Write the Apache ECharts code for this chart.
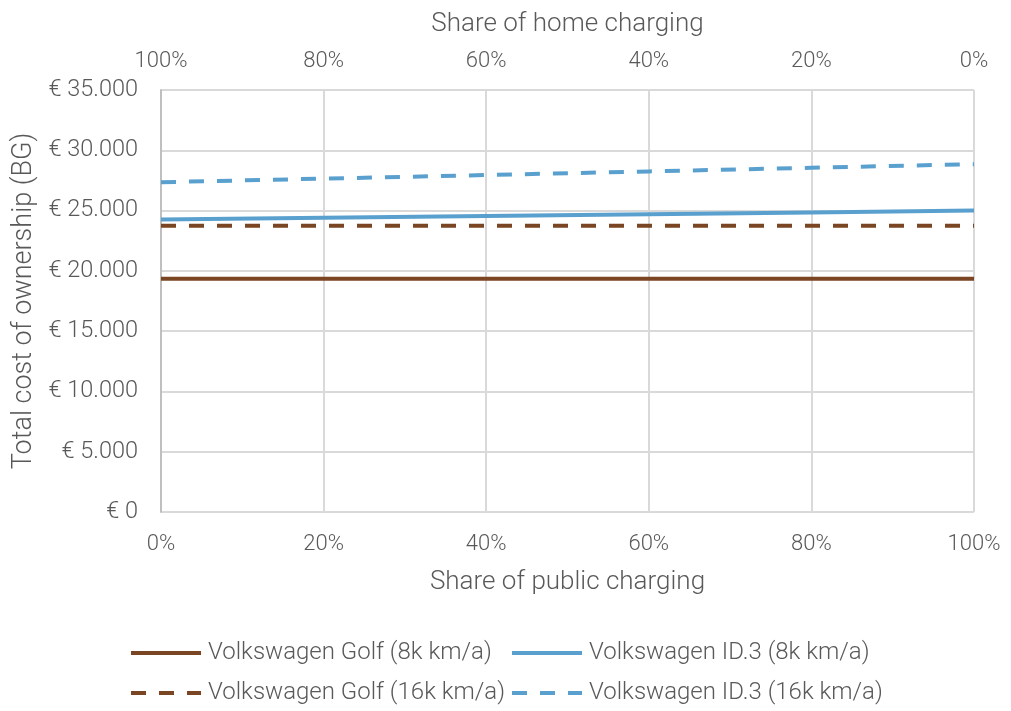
<!DOCTYPE html>
<html>
<head>
<meta charset="utf-8">
<script src="https://cdn.jsdelivr.net/npm/echarts@6/dist/echarts.min.js"></script>
<style>
  html, body { margin: 0; padding: 0; background: #fff; }
  #chart { width: 1011px; height: 711px; }
</style>
</head>
<body>
<div id="chart"></div>
<script>
// share of public charging (%)
const publicShare = [0, 20, 40, 60, 80, 100]
const yTicks = [0, 5000, 10000, 15000, 20000, 25000, 30000, 35000]

const golf8k = [19350, 19350, 19350, 19350, 19350, 19350]
const golf16k = [23750, 23750, 23750, 23750, 23750, 23750]
const id3_8k = [24250, 24400, 24550, 24700, 24850, 25000]
const id3_16k = [27350, 27650, 27950, 28250, 28550, 28850]

const seriesNames = [
  'Volkswagen Golf (8k km/a)',
  'Volkswagen ID.3 (8k km/a)',
  'Volkswagen Golf (16k km/a)',
  'Volkswagen ID.3 (16k km/a)'
]

const brown = '#7a4523'
const blue = '#5aa0cf'
const textColor = '#595959'
const font = 'Roboto'

const pairs = vals => publicShare.map((x, i) => [x, vals[i]])

const fmtEuro = v => '€ ' + String(v).replace(/\B(?=(\d{3})+(?!\d))/g, '.')

const chart = echarts.init(document.getElementById('chart'))

const lineSeries = (name, vals, color, dashed) => ({
  name,
  type: 'line',
  data: pairs(vals),
  symbol: 'none',
  xAxisIndex: 0,
  lineStyle: { color, width: 4, type: dashed ? [15, 13] : 'solid' },
  itemStyle: { color },
  animation: false
})

const legendText = { color: textColor, fontFamily: font, fontWeight: 300, fontSize: 24, lineHeight: 24, padding: [0, 0, 0, 2] }
// one legend per item so the 2x2 layout lines up like the original
const legendAt = (name, left, top) => ({
  left, top, padding: 0, itemWidth: 70, itemHeight: 14,
  itemStyle: { opacity: 0 }, lineStyle: { width: 4 },
  textStyle: legendText, data: [name]
})

chart.setOption({
  animation: false,
  textStyle: { fontFamily: font },
  grid: { left: 161, right: 37, top: 90, bottom: 199, containLabel: false, outerBoundsMode: 'none' },
  legend: [
    legendAt(seriesNames[0], 129, 641),
    legendAt(seriesNames[1], 510, 641),
    legendAt(seriesNames[2], 129, 681),
    legendAt(seriesNames[3], 510, 681)
  ],
  xAxis: [
    {
      type: 'value', position: 'bottom', min: 0, max: 100, interval: 20,
      name: 'Share of public charging', nameLocation: 'middle', nameGap: 57,
      nameTextStyle: { color: textColor, fontSize: 26, fontWeight: 300, fontFamily: font },
      axisLine: { show: false }, axisTick: { show: false },
      axisLabel: { formatter: '{value}%', color: textColor, fontSize: 22, fontWeight: 300, margin: 21 },
      splitLine: { show: true, lineStyle: { color: '#d9d9d9', width: 2 } }
    },
    {
      type: 'value', position: 'top', inverse: true, min: 0, max: 100, interval: 20,
      name: 'Share of home charging', nameLocation: 'middle', nameGap: 53,
      nameTextStyle: { color: textColor, fontSize: 26, fontWeight: 300, fontFamily: font },
      axisLine: { show: false }, axisTick: { show: false },
      axisLabel: { formatter: '{value}%', color: textColor, fontSize: 22, fontWeight: 300, margin: 18 },
      splitLine: { show: false }
    }
  ],
  yAxis: {
    type: 'value', min: yTicks[0], max: yTicks[yTicks.length - 1], interval: yTicks[1] - yTicks[0],
    name: 'Total cost of ownership (BG)', nameLocation: 'middle', nameGap: 121,
    nameTextStyle: { color: textColor, fontSize: 27, fontWeight: 300, fontFamily: font },
    axisLine: { show: true, lineStyle: { color: '#bfbfbf', width: 2 } },
    axisTick: { show: false },
    axisLabel: { formatter: fmtEuro, color: textColor, fontSize: 23.5, fontWeight: 300, margin: 23 },
    splitLine: { show: true, lineStyle: { color: '#d9d9d9', width: 2 } }
  },
  series: [
    lineSeries(seriesNames[0], golf8k, brown, false),
    lineSeries(seriesNames[1], id3_8k, blue, false),
    lineSeries(seriesNames[2], golf16k, brown, true),
    lineSeries(seriesNames[3], id3_16k, blue, true)
  ]
})
</script>
</body>
</html>
